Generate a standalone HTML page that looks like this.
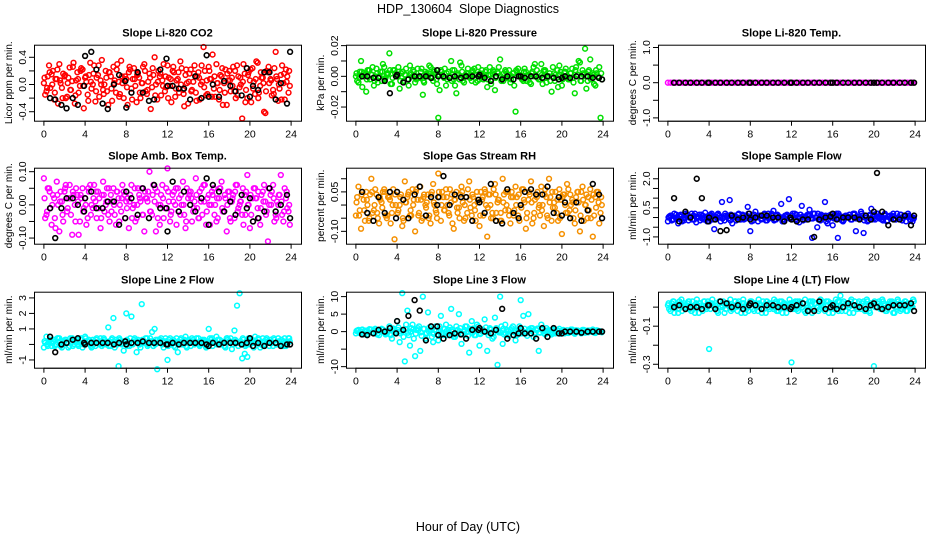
<!DOCTYPE html>
<html><head><meta charset="utf-8"><style>
html,body{margin:0;padding:0;background:#fff;}
svg{display:block;font-family:"Liberation Sans",sans-serif;}
</style></head><body>
<svg id="chart" width="936" height="540" viewBox="0 0 936 540">
<rect width="936" height="540" fill="#fff"/>
<text x="468" y="13" text-anchor="middle" font-size="12.5" xml:space="preserve">HDP_130604  Slope Diagnostics</text>
<text x="468" y="531" text-anchor="middle" font-size="12.5">Hour of Day (UTC)</text>
</svg>
<script>
const hours = [0,0.25,0.5,0.75,1,1.25,1.5,1.75,2,2.25,2.5,2.75,3,3.25,3.5,3.75,4,4.25,4.5,4.75,5,5.25,5.5,5.75,6,6.25,6.5,6.75,7,7.25,7.5,7.75,8,8.25,8.5,8.75,9,9.25,9.5,9.75,10,10.25,10.5,10.75,11,11.25,11.5,11.75,12,12.25,12.5,12.75,13,13.25,13.5,13.75,14,14.25,14.5,14.75,15,15.25,15.5,15.75,16,16.25,16.5,16.75,17,17.25,17.5,17.75,18,18.25,18.5,18.75,19,19.25,19.5,19.75,20,20.25,20.5,20.75,21,21.25,21.5,21.75,22,22.25,22.5,22.75,23,23.25,23.5,23.75];
const blackHours = [0.6,1.1,1.7,2.2,2.8,3.3,3.9,4.0,4.6,5.1,5.7,6.2,6.8,7.3,7.9,8.0,8.5,9.1,9.6,10.2,10.7,11.3,11.9,12.0,12.5,13.1,13.6,14.2,14.7,15.3,15.8,16.0,16.4,17.0,17.5,18.1,18.6,19.2,19.7,20.0,20.3,20.8,21.4,21.9,22.5,23.0,23.6,23.9];
const xTicks = [0,4,8,12,16,20,24];

const co2A = [0.02,-0.10,0.28,0.15,-0.22,0.08,0.30,-0.05,0.12,-0.18,0.25,0.05,-0.28,0.18,-0.02,0.22,0.10,-0.15,0.32,0.00,-0.25,0.14,0.06,-0.08,0.20,-0.30,0.12,0.26,-0.12,0.04,0.35,-0.20,0.08,0.18,-0.06,0.24,-0.26,0.10,0.02,0.30,-0.14,0.16,-0.04,0.40,-0.22,0.12,0.06,-0.10,0.28,-0.02,0.20,-0.18,0.08,0.34,-0.08,0.14,-0.28,0.22,0.04,-0.12,0.18,0.00,0.55,-0.16,0.26,0.08,-0.06,0.30,-0.22,0.12,0.02,-0.30,0.20,0.10,-0.10,0.28,-0.04,-0.50,0.16,-0.20,0.06,0.24,-0.14,0.32,-0.02,0.10,-0.42,0.18,0.08,-0.08,0.48,-0.24,0.14,0.02,0.22,-0.12];
const co2B = [-0.15,0.12,-0.05,0.20,0.08,-0.28,0.02,0.16,-0.20,0.10,-0.08,0.32,0.06,-0.12,0.24,-0.35,0.04,0.14,-0.06,0.28,0.10,-0.18,0.36,0.00,-0.10,0.18,-0.24,0.06,0.30,-0.14,0.02,0.12,-0.30,0.22,0.08,-0.02,0.16,-0.20,0.26,-0.10,0.04,-0.36,0.14,0.00,0.20,-0.16,0.30,-0.04,0.10,-0.26,0.18,0.06,-0.12,0.24,-0.32,0.02,0.16,-0.08,0.28,0.12,-0.22,0.04,0.20,-0.14,0.08,0.44,-0.18,0.02,0.14,-0.30,0.22,0.06,-0.10,0.26,-0.20,0.12,0.00,0.30,-0.08,0.18,-0.26,0.04,0.34,-0.12,0.10,-0.40,0.20,0.02,-0.16,0.24,0.08,-0.06,0.28,-0.22,0.12,-0.02];
const co2C = [0.10,-0.05,0.18,0.00,-0.12,0.22,0.06,-0.20,0.14,0.02,-0.08,0.26,-0.16,0.08,0.20,-0.02,0.12,-0.24,0.04,0.16,-0.10,0.28,0.00,-0.14,0.10,0.18,-0.06,0.02,0.22,-0.18,0.12,0.06,-0.04,0.26,-0.22,0.08,0.14,-0.12,0.02,0.20,-0.08,0.10,0.24,-0.16,0.04,0.16,-0.02,0.12,-0.20,0.08,0.26,-0.06,0.18,0.00,-0.14,0.22,0.04,-0.10,0.16,-0.24,0.10,0.28,-0.04,0.06,0.20,-0.18,0.12,0.02,-0.08,0.24,-0.12,0.16,0.06,-0.02,0.20,-0.16,0.10,0.04,-0.26,0.14,0.22,-0.06,0.08,-0.20,0.18,0.02,-0.10,0.26,0.06,-0.14,0.12,0.00,-0.22,0.16,0.04,0.20];
const co2Black = [-0.2,-0.22,-0.3,-0.35,-0.2,-0.3,-0.02,0.42,0.48,0.22,-0.28,-0.36,0.0,0.14,0.05,-0.34,-0.12,0.18,-0.12,-0.24,-0.22,0.22,0.38,-0.02,-0.02,-0.06,-0.06,-0.22,0.12,-0.2,0.43,-0.18,0.0,-0.18,0.05,-0.02,-0.1,-0.16,0.24,-0.18,-0.02,-0.08,0.18,0.18,-0.22,0.02,-0.28,0.48];

const presA = [0.000,-0.004,0.010,0.002,-0.010,0.004,0.001,-0.006,0.005,0.000,-0.003,0.006,0.002,0.015,-0.005,0.004,0.000,-0.008,0.003,0.001,-0.002,0.007,0.000,-0.004,0.005,-0.001,-0.012,0.003,0.000,0.006,-0.003,0.002,-0.027,0.004,0.000,-0.006,0.003,0.010,-0.002,-0.011,0.001,0.007,-0.004,0.002,0.000,-0.003,0.005,0.001,-0.002,0.004,0.000,-0.007,0.006,0.002,-0.009,0.003,0.011,-0.001,0.004,0.000,-0.004,0.002,-0.023,0.005,0.000,-0.003,0.003,0.001,-0.005,0.006,0.000,-0.002,0.008,0.004,-0.004,0.000,-0.010,0.002,-0.001,0.007,-0.006,0.003,0.000,-0.002,0.005,-0.011,0.001,0.009,0.004,0.018,-0.003,0.011,0.002,-0.006,0.000,-0.027];
const presB = [-0.003,0.003,-0.007,0.001,0.004,-0.002,0.006,0.000,-0.004,0.003,0.008,-0.001,0.002,-0.005,0.004,0.000,0.006,0.002,-0.003,0.005,-0.006,0.001,0.003,-0.002,0.000,0.005,-0.004,0.002,0.007,-0.001,0.003,-0.005,-0.009,0.001,0.005,-0.002,0.000,0.004,-0.006,0.002,0.009,-0.003,0.001,0.005,-0.001,0.003,-0.004,0.006,0.000,-0.002,0.004,0.001,-0.005,0.003,0.000,0.006,-0.003,0.002,-0.001,0.004,0.000,-0.006,0.003,0.001,-0.002,0.005,0.000,-0.004,0.003,0.008,-0.001,0.002,-0.005,0.004,0.000,-0.003,0.006,0.001,-0.007,0.003,0.000,0.005,-0.002,0.002,-0.004,0.006,0.010,-0.003,0.001,-0.008,0.004,0.000,-0.005,0.002,0.006,-0.002];
const presC = [0.002,-0.001,0.003,0.000,-0.002,0.004,0.001,-0.003,0.002,0.000,0.003,-0.002,0.001,0.004,-0.001,0.002,0.000,-0.003,0.003,0.001,-0.002,0.002,0.004,0.000,-0.001,0.003,-0.003,0.001,0.002,0.000,0.004,-0.002,0.001,0.003,-0.001,0.002,0.000,-0.003,0.004,0.001,-0.002,0.003,0.000,0.002,-0.001,0.004,0.001,-0.003,0.002,0.000,0.003,-0.002,0.001,0.004,-0.001,0.002,0.000,-0.003,0.003,0.001,-0.002,0.002,0.004,0.000,-0.001,0.003,-0.003,0.001,0.002,0.000,0.004,-0.002,0.001,0.003,-0.001,0.002,0.000,-0.003,0.004,0.001,-0.002,0.003,0.000,0.002,-0.001,0.004,0.001,-0.003,0.002,0.000,0.003,-0.002,0.001,0.004,-0.001,0.002];
const presBlack = [0.000,0.000,-0.001,-0.001,-0.003,-0.011,0.000,0.001,-0.004,-0.002,0.000,0.000,0.000,-0.001,0.004,0.000,0.000,-0.001,0.000,-0.001,0.000,0.000,0.000,0.001,-0.001,-0.003,0.000,-0.002,0.000,-0.002,0.000,0.000,-0.001,0.000,0.000,-0.001,0.000,-0.001,-0.002,-0.001,0.000,-0.001,0.000,0.000,0.000,-0.001,-0.001,-0.002];

const tempA = [0,0,0,0,0,0,0,0,0,0,0,0,0,0,0,0,0,0,0,0,0,0,0,0,0,0,0,0,0,0,0,0,0,0,0,0,0,0,0,0,0,0,0,0,0,0,0,0,0,0,0,0,0,0,0,0,0,0,0,0,0,0,0,0,0,0,0,0,0,0,0,0,0,0,0,0,0,0,0,0,0,0,0,0,0,0,0,0,0,0,0,0,0,0,0,0];
const tempBlack = [0,0,0,0,0,0,0,0,0,0,0,0,0,0,0,0,0,0,0,0,0,0,0,0,0,0,0,0,0,0,0,0,0,0,0,0,0,0,0,0,0,0,0,0,0,0,0,0];

const boxA = [0.08,-0.03,0.05,-0.06,0.02,0.07,-0.08,0.01,0.04,-0.02,0.06,-0.09,0.00,0.03,-0.05,0.05,0.02,-0.04,0.06,-0.01,0.01,0.04,-0.07,0.07,0.00,-0.03,0.03,0.05,-0.06,0.02,-0.02,0.04,0.01,-0.07,0.06,0.00,-0.04,0.03,0.05,-0.08,0.02,0.10,-0.03,0.01,0.04,-0.06,0.06,-0.01,0.11,-0.05,0.03,0.00,0.05,-0.03,0.07,-0.07,0.02,0.04,-0.02,0.08,-0.04,0.01,0.06,-0.06,0.03,0.00,0.05,-0.05,0.02,0.07,-0.02,-0.08,0.04,0.01,-0.04,0.06,0.00,-0.03,0.03,0.09,-0.07,0.02,0.05,-0.01,-0.06,0.04,0.01,-0.11,0.03,0.06,-0.03,0.00,0.09,-0.05,0.02,-0.02];
const boxB = [-0.04,0.05,-0.01,0.03,-0.07,0.00,0.04,-0.05,0.06,0.02,-0.03,0.03,0.05,-0.09,0.02,-0.01,-0.06,0.04,0.00,0.06,-0.04,0.02,0.03,-0.02,0.05,-0.05,0.01,-0.03,0.04,0.00,0.06,-0.04,0.02,0.03,-0.01,-0.05,0.05,0.01,-0.03,0.02,0.04,-0.02,0.06,-0.08,0.00,0.03,-0.04,0.05,0.01,-0.02,0.04,-0.06,0.02,0.00,-0.03,0.05,0.03,-0.05,0.01,-0.01,0.04,-0.03,0.06,0.02,-0.06,0.03,0.00,-0.04,0.05,-0.02,0.02,0.04,-0.05,0.03,0.06,-0.01,0.01,-0.06,0.04,0.00,-0.03,0.05,0.02,-0.04,0.03,0.06,-0.02,0.00,0.04,-0.05,0.01,0.03,-0.03,0.05,-0.01,-0.06];
const boxC = [0.02,-0.02,0.04,0.00,-0.04,0.03,0.01,-0.03,0.05,-0.01,0.02,0.04,-0.05,0.01,0.03,-0.02,0.00,0.05,-0.03,0.02,0.04,-0.01,-0.04,0.03,0.01,0.05,-0.02,0.00,0.04,-0.05,0.02,0.03,-0.01,0.01,-0.04,0.05,0.00,0.02,-0.03,0.04,0.01,-0.02,0.03,0.05,-0.04,0.00,0.02,-0.01,0.04,-0.03,0.01,0.05,-0.02,0.03,0.00,-0.05,0.04,0.02,-0.01,0.03,-0.04,0.05,0.01,-0.02,0.00,0.04,-0.03,0.02,0.05,-0.01,0.03,0.00,-0.04,0.02,0.04,-0.02,0.01,0.05,-0.03,0.00,0.03,-0.05,0.02,0.04,-0.01,0.01,-0.03,0.05,0.00,0.02,-0.04,0.03,0.01,-0.02,0.04,0.00];
const boxBlack = [-0.01,-0.10,-0.01,0.02,0.02,0.00,-0.02,0.02,0.04,-0.01,-0.01,0.01,0.01,-0.06,-0.04,0.04,0.02,-0.03,0.05,-0.04,0.06,-0.01,-0.01,-0.08,0.07,-0.02,0.04,0.00,-0.02,0.02,0.08,-0.06,0.06,0.04,-0.02,0.01,-0.03,0.03,-0.01,0.02,-0.05,-0.04,-0.02,0.05,-0.02,0.00,0.03,-0.04];

const rhA = [-0.04,0.07,-0.09,0.02,0.05,-0.06,0.10,-0.02,0.04,-0.07,0.01,0.06,-0.05,0.03,-0.03,-0.13,0.05,0.00,-0.08,0.09,0.03,-0.04,0.06,-0.10,0.02,0.07,-0.05,0.00,0.04,-0.07,0.08,-0.02,0.12,-0.06,0.03,0.06,-0.03,0.01,-0.09,0.05,-0.01,0.07,-0.06,0.03,0.09,-0.04,0.00,0.05,-0.08,0.02,0.06,-0.12,0.04,-0.03,0.08,0.01,-0.06,0.10,-0.02,0.05,-0.07,0.03,0.07,-0.04,0.00,0.06,-0.09,0.02,0.09,-0.05,0.04,-0.01,0.07,-0.08,0.03,0.10,-0.06,0.01,-0.03,0.06,-0.11,0.04,0.08,-0.02,0.02,-0.07,0.05,-0.10,0.07,0.00,-0.05,0.06,-0.12,0.03,0.05,-0.03];
const rhB = [0.03,-0.02,0.05,-0.06,0.00,0.04,-0.03,0.06,-0.05,0.02,0.05,-0.04,0.03,-0.07,0.06,0.00,-0.02,0.04,-0.06,0.01,0.05,-0.04,0.02,0.06,-0.03,-0.06,0.04,0.01,-0.04,0.05,0.00,-0.05,0.03,0.05,-0.02,0.00,0.06,-0.07,0.02,-0.03,0.04,0.01,-0.05,0.06,-0.01,0.03,-0.06,0.02,0.05,-0.04,0.00,0.04,-0.05,0.06,-0.03,0.02,-0.06,0.04,0.00,-0.04,0.05,-0.02,0.03,-0.06,0.06,0.01,-0.03,0.04,-0.07,0.02,0.05,-0.04,0.00,0.06,-0.05,0.03,-0.01,0.05,-0.06,0.02,0.04,-0.03,0.06,0.00,-0.05,0.03,0.01,0.05,-0.06,0.04,-0.02,0.02,-0.04,0.05,-0.07,0.00];
const rhC = [0.01,-0.04,0.04,-0.02,0.02,-0.05,0.05,0.00,-0.03,0.03,-0.01,0.05,-0.04,0.02,0.00,0.04,-0.03,0.03,-0.05,0.01,0.04,-0.02,0.00,0.05,-0.04,0.02,0.03,-0.01,-0.05,0.04,0.01,-0.03,0.05,0.00,-0.02,0.03,-0.04,0.04,0.02,-0.01,-0.05,0.05,0.00,-0.03,0.02,0.04,-0.02,0.01,-0.04,0.03,0.05,-0.01,0.00,-0.05,0.04,0.02,-0.03,0.01,0.05,-0.02,0.03,-0.04,0.00,0.04,-0.01,0.02,-0.05,0.05,0.01,-0.03,0.03,0.00,-0.02,0.04,-0.04,0.01,0.05,-0.01,0.02,-0.05,0.03,0.00,-0.03,0.04,0.01,-0.02,0.05,-0.04,0.02,0.00,0.03,-0.05,0.04,-0.01,0.01,0.03];
const rhBlack = [0.05,-0.03,-0.06,0.03,-0.03,0.05,-0.05,0.05,0.02,-0.05,0.04,0.07,-0.04,0.03,0.00,0.03,0.11,0.00,0.04,0.03,0.03,-0.06,0.02,0.01,-0.03,0.08,-0.06,-0.07,0.06,-0.03,-0.05,0.00,0.05,0.06,0.04,0.04,0.07,-0.03,0.03,-0.04,0.01,-0.05,0.01,-0.06,-0.02,0.08,0.04,-0.05];

const flowA = [-0.2,0.1,-0.1,0.0,-0.3,0.15,-0.05,0.2,-0.15,0.05,0.1,-0.25,0.0,0.15,-0.1,0.05,-0.2,0.2,-0.6,0.0,0.1,0.8,-0.15,0.05,0.9,-0.3,0.1,0.0,-0.1,0.15,-0.05,0.55,-0.7,0.0,0.3,-0.2,0.1,0.05,-0.15,0.2,0.0,0.35,-0.1,0.05,0.7,-0.2,0.1,0.95,-0.1,0.0,0.15,-0.25,0.6,0.05,-0.1,0.4,-1.05,0.2,-0.5,0.0,0.1,0.8,-0.3,0.05,-0.4,0.15,-1.05,0.0,-0.2,0.1,0.05,-0.1,0.2,-0.7,0.0,0.3,-0.8,0.1,-0.15,0.45,-0.05,0.2,0.0,-0.1,0.15,-0.2,0.05,0.1,-0.05,0.2,0.0,-0.15,0.1,0.05,-0.1,-0.2];
const flowB = [0.05,-0.15,0.2,-0.05,0.1,-0.2,0.0,0.15,0.05,-0.1,0.2,0.0,-0.15,0.1,0.25,-0.05,0.15,-0.1,0.05,0.2,-0.2,0.0,0.1,-0.05,0.15,0.05,-0.15,0.2,0.0,-0.1,0.1,0.05,-0.2,0.15,0.0,0.1,-0.05,0.2,-0.15,0.05,0.1,-0.1,0.15,0.0,-0.2,0.1,0.05,-0.05,0.2,-0.1,0.0,0.15,-0.15,0.05,0.1,-0.05,0.2,0.0,-0.1,0.15,0.05,-0.2,0.1,0.0,-0.05,0.2,0.1,-0.15,0.05,0.0,0.15,-0.1,0.2,0.05,-0.05,0.1,0.0,-0.2,0.15,0.05,-0.1,0.2,0.0,-0.15,0.1,0.05,-0.05,0.2,-0.1,0.0,0.15,0.05,-0.2,0.1,0.0,-0.05];
const flowC = [0.0,0.1,-0.1,0.15,-0.05,0.05,-0.15,0.1,0.0,0.2,-0.1,0.05,0.15,-0.05,0.0,-0.2,0.1,0.05,-0.1,0.15,0.0,-0.05,0.2,0.1,-0.15,0.0,0.05,0.15,-0.1,0.1,-0.05,0.2,0.0,-0.15,0.05,0.1,-0.1,0.15,0.0,-0.05,0.2,-0.15,0.1,0.05,0.0,-0.1,0.15,-0.05,0.1,0.2,-0.15,0.0,0.05,-0.1,0.15,0.1,-0.05,0.0,0.2,-0.15,0.05,0.1,-0.1,0.15,0.0,-0.05,0.2,0.05,-0.15,0.1,0.0,-0.1,0.15,-0.05,0.05,0.2,-0.15,0.0,0.1,-0.1,0.15,0.05,-0.05,0.0,0.2,-0.15,0.1,0.05,-0.1,0.0,0.15,-0.05,0.1,0.2,-0.15,0.0];
const flowBlack = [1.0,-0.2,0.3,0.0,2.0,1.0,-0.2,0.0,-0.1,-0.7,-0.65,0.1,-0.1,0.0,0.2,-0.1,0.0,0.1,0.1,0.0,0.0,-0.2,0.0,-0.1,-0.2,-0.1,-0.1,-1.0,-0.1,0.0,0.05,0.2,-0.1,0.0,0.0,0.0,-0.1,0.1,-0.1,0.3,2.3,0.3,-0.4,-0.1,-0.1,0.1,-0.4,0.1];

const l2A = [-0.2,0.5,0.1,-0.1,0.3,0.0,0.4,-0.2,0.2,0.1,-0.1,0.4,0.0,0.3,0.1,-0.2,0.5,0.2,0.0,0.3,-0.1,0.1,0.4,0.0,0.2,1.1,-0.1,1.7,0.3,-1.4,0.2,-0.4,2.0,0.1,1.8,0.3,-0.5,0.0,2.6,0.2,0.4,0.1,0.8,1.0,-1.6,0.3,0.0,0.2,-1.0,0.4,0.1,-0.2,-0.5,0.3,0.0,0.5,0.2,-0.1,0.3,0.1,0.4,0.0,0.2,-0.2,1.0,0.3,0.1,0.5,0.0,0.2,-0.1,0.4,0.2,-0.3,0.9,2.5,3.3,-0.9,-0.6,-0.8,0.0,0.3,0.5,0.1,-0.2,0.4,0.0,0.2,0.3,-0.1,0.1,0.4,0.0,0.2,-0.1,0.4];
const l2B = [0.1,-0.1,0.3,0.2,0.0,0.4,-0.1,0.2,0.3,-0.2,0.1,0.3,0.2,-0.1,0.4,0.0,0.1,0.3,-0.2,0.2,0.4,0.0,-0.1,0.3,0.1,0.2,0.4,-0.2,0.0,0.3,0.1,0.2,-0.1,0.4,0.0,0.2,0.3,-0.2,0.1,0.4,0.0,0.2,-0.1,0.3,0.1,0.4,-0.2,0.0,0.3,0.2,-0.1,0.4,0.1,0.0,0.3,-0.2,0.2,0.4,0.0,0.1,-0.1,0.3,0.2,0.0,0.4,-0.1,0.2,0.3,0.0,0.1,-0.2,0.3,0.4,0.0,0.2,-0.1,0.1,0.3,0.0,0.4,0.2,-0.2,0.1,0.3,0.0,0.2,0.4,-0.1,0.1,0.3,0.0,0.2,-0.1,0.4,0.1,0.2];
const l2C = [0.2,0.0,0.3,0.1,-0.1,0.4,0.2,0.0,0.3,0.1,0.4,-0.1,0.2,0.0,0.3,0.1,0.4,0.2,-0.1,0.0,0.3,0.1,0.2,0.4,0.0,-0.1,0.3,0.2,0.1,0.4,0.0,0.2,0.3,-0.1,0.1,0.4,0.2,0.0,0.3,0.1,-0.1,0.4,0.2,0.0,0.3,0.1,0.2,0.4,-0.1,0.0,0.3,0.1,0.2,0.4,0.0,-0.1,0.3,0.2,0.1,0.4,0.0,0.2,0.3,-0.1,0.1,0.4,0.2,0.0,0.3,0.1,-0.1,0.4,0.2,0.0,0.3,0.1,0.2,0.4,-0.1,0.0,0.3,0.1,0.2,0.4,0.0,-0.1,0.3,0.2,0.1,0.4,0.0,0.2,0.3,-0.1,0.1,0.4];
const l2Black = [0.5,-0.5,0.0,0.1,0.3,0.4,0.1,0.0,0.1,0.1,0.1,0.1,0.0,0.1,0.2,0.0,0.1,0.1,0.2,0.1,0.1,0.1,0.0,0.0,0.1,0.0,0.1,0.1,0.1,0.1,0.0,-0.1,0.1,0.0,0.1,0.1,0.1,0.0,0.1,0.4,-0.1,0.1,-0.1,0.1,0.1,-0.1,0.0,0.0];

const l3A = [-0.5,0.5,0.0,-0.8,0.3,-0.2,0.6,-0.4,0.2,-1.0,0.8,0.0,-0.6,1.5,-2.0,0.4,3.0,-3.0,11.0,-8.5,6.0,-4.0,2.0,-7.0,1.0,-5.5,10.0,-2.0,5.5,0.5,-3.0,1.5,-2.5,4.5,-1.0,2.0,0.5,6.5,-1.5,1.5,5.0,-3.5,0.0,1.5,-6.0,3.0,-1.0,2.0,-4.0,0.0,3.5,-5.5,1.0,-2.0,4.0,-9.5,10.0,-3.5,2.0,-1.0,0.5,1.5,-2.5,0.0,9.0,4.5,-0.5,5.0,1.0,-1.5,0.5,-5.5,2.0,-0.5,1.0,0.0,-0.8,0.6,-0.3,0.8,0.0,-0.5,0.4,-0.2,0.6,-0.6,0.2,0.0,0.5,-0.3,0.3,0.0,0.6,-0.4,0.2,0.1];
const l3B = [0.3,-0.4,0.6,0.0,-0.7,0.5,-0.2,0.8,-0.5,0.1,0.6,-0.8,0.3,-1.0,0.9,-0.3,1.2,0.0,-1.5,2.0,-1.0,1.0,-2.0,0.5,1.5,-1.2,0.8,-0.5,1.2,-1.5,0.5,-0.8,1.5,-0.3,0.8,-1.0,1.2,0.0,-1.5,0.5,1.0,-0.8,1.5,-1.2,0.3,0.9,-1.0,1.5,-0.5,0.2,1.2,-1.0,0.6,-1.5,1.0,-0.2,1.5,-0.8,0.5,-1.2,1.0,0.3,-1.0,1.5,-0.5,0.8,-1.2,0.5,1.0,-0.6,0.9,-0.3,0.6,-0.8,0.4,-0.2,0.7,-0.5,0.3,-0.6,0.5,0.0,-0.4,0.6,-0.3,0.4,0.1,-0.5,0.5,-0.2,0.3,0.0,-0.3,0.4,0.1,-0.2];
const l3C = [0.2,-0.3,0.5,-0.6,0.0,0.7,-0.2,0.4,-0.8,0.3,0.6,-0.4,0.1,-0.7,0.8,-0.1,0.5,-0.5,0.2,0.7,-0.3,0.0,0.6,-0.6,0.4,-0.2,0.8,-0.4,0.1,0.5,-0.7,0.3,0.0,-0.5,0.7,0.2,-0.3,0.6,-0.8,0.4,0.1,-0.6,0.5,-0.1,0.8,-0.4,0.2,0.3,-0.7,0.6,0.0,-0.2,0.7,-0.5,0.4,0.1,-0.3,0.8,-0.6,0.2,0.5,-0.1,0.3,-0.7,0.6,0.0,-0.4,0.7,0.2,-0.5,0.4,-0.2,0.5,0.1,-0.3,0.4,-0.4,0.2,0.3,-0.2,0.4,0.0,-0.3,0.3,0.1,-0.2,0.3,-0.1,0.2,0.0,-0.2,0.3,0.1,-0.1,0.2,0.0];
const l3Black = [-0.8,-1.0,-0.5,0.5,0.0,1.0,-0.5,3.0,0.5,4.5,9.0,6.0,-2.5,1.5,1.5,-1.0,-2.0,-1.0,-0.5,-0.8,-2.0,0.5,0.5,1.0,0.0,-0.5,0.5,6.5,-2.0,-1.0,-0.5,1.0,-0.5,-0.5,-2.0,1.0,-1.5,1.0,-0.5,-0.5,0.0,0.0,0.0,-0.3,0.0,0.0,0.0,0.0];

const l4A = [0.01,-0.02,0.03,0.00,-0.03,0.02,0.01,-0.01,0.03,-0.02,0.00,0.02,-0.03,0.01,0.03,-0.01,-0.22,0.02,0.00,-0.02,0.03,0.01,-0.03,0.02,0.00,-0.01,0.03,-0.02,0.01,0.02,-0.03,0.00,0.03,-0.01,0.02,-0.02,0.01,0.03,-0.03,0.00,0.02,-0.01,0.03,-0.02,0.00,0.02,-0.03,0.01,-0.29,0.02,-0.01,0.03,0.00,-0.02,0.01,0.03,-0.03,0.02,0.00,-0.01,0.03,-0.02,0.01,0.02,-0.03,0.00,0.03,0.06,0.02,-0.02,0.01,0.03,-0.03,0.00,0.02,-0.01,0.03,-0.02,0.01,0.02,-0.31,0.00,0.03,-0.01,0.02,-0.02,0.01,0.03,-0.03,0.00,0.02,-0.01,0.03,-0.02,0.01,0.00];
const l4B = [-0.01,0.02,-0.03,0.01,0.03,-0.02,0.00,0.02,-0.01,0.03,-0.03,0.01,0.02,-0.02,0.00,0.03,-0.01,0.01,0.02,-0.03,0.00,0.03,-0.01,0.02,-0.02,0.01,0.00,0.03,-0.03,0.02,-0.01,0.01,0.03,-0.02,0.00,0.02,-0.03,0.01,0.03,-0.01,0.00,0.02,-0.02,0.03,-0.03,0.01,0.00,0.02,-0.01,0.03,-0.02,0.01,0.02,-0.03,0.00,0.03,-0.01,0.02,-0.02,0.01,0.00,0.03,-0.03,0.02,-0.01,0.01,0.03,-0.02,0.00,0.02,-0.03,0.01,0.03,-0.01,0.00,0.02,-0.02,0.03,-0.03,0.01,0.00,0.02,-0.01,0.03,-0.02,0.01,0.02,-0.03,0.00,0.03,-0.01,0.02,-0.02,0.01,0.00,0.03];
const l4C = [0.02,0.00,0.03,0.01,-0.01,0.04,0.02,0.00,0.03,-0.02,0.01,0.04,0.02,-0.01,0.03,0.00,0.02,0.04,0.01,-0.02,0.03,0.00,0.02,0.01,0.04,-0.01,0.03,0.02,0.00,0.04,0.01,-0.02,0.03,0.02,0.00,0.04,0.01,-0.01,0.03,0.02,0.00,0.04,-0.02,0.01,0.03,0.02,0.00,0.04,0.01,-0.01,0.03,0.02,0.00,0.04,-0.02,0.01,0.03,0.02,0.00,0.04,0.01,-0.01,0.03,0.02,0.00,0.04,-0.02,0.01,0.03,0.02,0.00,0.04,0.01,-0.01,0.03,0.02,0.00,0.04,-0.02,0.01,0.03,0.02,0.00,0.04,0.01,-0.01,0.03,0.02,0.00,0.04,-0.02,0.01,0.03,0.02,0.00,0.04];
const l4Black = [0.0,0.01,-0.01,0.00,0.00,-0.01,0.01,0.01,-0.01,0.03,0.02,0.00,0.01,-0.01,0.01,0.02,0.01,-0.01,0.01,0.01,0.00,0.00,-0.01,0.00,0.01,0.02,-0.02,-0.02,0.03,-0.01,0.00,0.01,-0.01,0.00,0.02,0.01,0.00,-0.01,0.01,0.02,0.00,-0.01,0.00,0.01,0.01,0.01,0.02,-0.02];

const panels = [
 {name:'co2',title:'Slope Li-820 CO2',ytitle:'Licor ppm per min.',col:0,row:0,ylim:[-0.532,0.585],ticks:[-0.4,-0.2,0,0.2,0.4],labels:[[-0.4,'-0.4'],[0,'0.0'],[0.4,'0.4']],color:'#ff0000',series:[co2A,co2B,co2C],black:co2Black},
 {name:'pressure',title:'Slope Li-820 Pressure',ytitle:'kPa per min.',col:1,row:0,ylim:[-0.0289,0.0206],ticks:[-0.02,-0.01,0,0.01,0.02],labels:[[-0.02,'-0.02'],[0,'0.00'],[0.02,'0.02']],color:'#00e000',series:[presA,presB,presC],black:presBlack},
 {name:'temp',title:'Slope Li-820 Temp.',ytitle:'degrees C per min.',col:2,row:0,ylim:[-1.08,1.08],ticks:[-1,-0.5,0,0.5,1],labels:[[-1,'-1.0'],[0,'0.0'],[1,'1.0']],color:'#ff00ff',series:[tempA],black:tempBlack},
 {name:'box-temp',title:'Slope Amb. Box Temp.',ytitle:'degrees C per min.',col:0,row:1,ylim:[-0.117,0.112],ticks:[-0.1,-0.05,0,0.05,0.1],labels:[[-0.1,'-0.10'],[0,'0.00'],[0.1,'0.10']],color:'#ff00ff',series:[boxA,boxB,boxC],black:boxBlack},
 {name:'gas-rh',title:'Slope Gas Stream RH',ytitle:'percent per min.',col:1,row:1,ylim:[-0.147,0.142],ticks:[-0.1,-0.05,0,0.05,0.1],labels:[[-0.1,'-0.10'],[0.05,'0.05']],color:'#f59000',series:[rhA,rhB,rhC],black:rhBlack},
 {name:'sample-flow',title:'Slope Sample Flow',ytitle:'ml/min per min.',col:2,row:1,ylim:[-1.35,2.57],ticks:[-1,-0.5,0,0.5,1,1.5,2],labels:[[-1,'-1.0'],[0.5,'0.5'],[2,'2.0']],color:'#0000ff',series:[flowA,flowB,flowC],black:flowBlack},
 {name:'line2-flow',title:'Slope Line 2 Flow',ytitle:'ml/min per min.',col:0,row:2,ylim:[-1.5,3.4],ticks:[-1,0,1,2,3],labels:[[-1,'-1'],[1,'1'],[2,'2'],[3,'3']],color:'#00ffff',series:[l2A,l2B,l2C],black:l2Black},
 {name:'line3-flow',title:'Slope Line 3 Flow',ytitle:'ml/min per min.',col:1,row:2,ylim:[-10.3,11.4],ticks:[-10,-5,0,5,10],labels:[[-10,'-10'],[0,'0'],[5,'5'],[10,'10']],color:'#00ffff',series:[l3A,l3B,l3C],black:l3Black},
 {name:'line4-flow',title:'Slope Line 4 (LT) Flow',ytitle:'ml/min per min.',col:2,row:2,ylim:[-0.318,0.081],ticks:[-0.3,-0.2,-0.1,0],labels:[[-0.3,'-0.3'],[-0.1,'-0.1']],color:'#00ffff',series:[l4A,l4B,l4C],black:l4Black}
];

const NS='http://www.w3.org/2000/svg';
const svg=document.getElementById('chart');
function mk(tag,attrs,parent){const e=document.createElementNS(NS,tag);for(const k in attrs)e.setAttribute(k,attrs[k]);(parent||svg).appendChild(e);return e;}
const colLeft=[34,346,658], rowTop=[44.7,167.7,291.7], W=267, Hh=76;
const XMIN=-0.96, XMAX=24.96;
const jitter=[0,0.125,0.0625];

panels.forEach(p=>{
  const L=colLeft[p.col], T=rowTop[p.row];
  const g=mk('g',{});
  
  
  const xs=v=>L+(v-XMIN)/(XMAX-XMIN)*W;
  const ys=v=>T+Hh-(v-p.ylim[0])/(p.ylim[1]-p.ylim[0])*Hh;
  const t=mk('text',{x:L+W/2,y:T-8,'text-anchor':'middle','font-size':11,'font-weight':'bold'},g);
  t.textContent=p.title;
  
  
  const yt=mk('text',{transform:`translate(${L-22},${T+Hh/2}) rotate(-90)`,'text-anchor':'middle','font-size':10},g);
  yt.textContent=p.ytitle;
  
  
  const xa=mk('g',{},g);
  
  
  mk('line',{x1:xs(xTicks[0]),x2:xs(xTicks[xTicks.length-1]),y1:T+Hh+0.5,y2:T+Hh+0.5,stroke:'#000'},xa);
  xTicks.forEach(v=>{
    mk('line',{x1:xs(v),x2:xs(v),y1:T+Hh,y2:T+Hh+5,stroke:'#000'},xa);
    const l=mk('text',{x:xs(v),y:T+Hh+17,'text-anchor':'middle','font-size':10.5},xa);
    l.textContent=v;
    
    
  });
  const ya=mk('g',{},g);
  
  
  p.ticks.forEach(v=>{mk('line',{x1:L-5,x2:L,y1:ys(v),y2:ys(v),stroke:'#000'},ya);});
  p.labels.forEach(([v,s])=>{
    const l=mk('text',{transform:`translate(${L-8},${ys(v)}) rotate(-90)`,'text-anchor':'middle','font-size':10.5},ya);
    l.textContent=s;
    
    
  });
  const pts=mk('g',{fill:'none',stroke:p.color,'stroke-width':1.5},g);
  
  
  p.series.forEach((arr,si)=>{
    const n=Math.min(arr.length,hours.length);
    for(let i=0;i<n;i++){
      const c=mk('circle',{cx:xs(hours[i]+jitter[si]),cy:ys(arr[i]),r:2.4},pts);
      
      
    }
  });
  const bp=mk('g',{fill:'none',stroke:'#000','stroke-width':1.6},g);
  
  
  const nb=Math.min(p.black.length,blackHours.length);
  for(let i=0;i<nb;i++){
    const c=mk('circle',{cx:xs(blackHours[i]),cy:ys(p.black[i]),r:2.4},bp);
    
    
  }
  const box=mk('rect',{x:L+0.5,y:T+0.5,width:W,height:Hh,fill:'none',stroke:'#000'},g);
  
  
});
</script>
</body></html>
